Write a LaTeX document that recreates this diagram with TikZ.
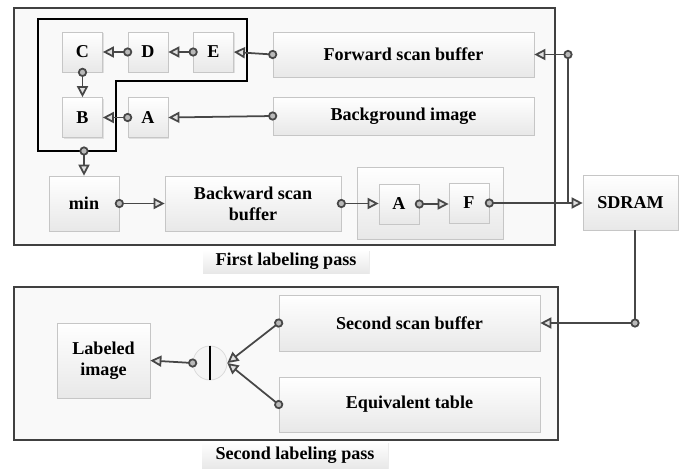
\documentclass[tikz,border=0pt]{standalone}
\usepackage{fontspec}
\setmainfont{Liberation Serif}
\usetikzlibrary{arrows.meta,shadows}

\begin{document}
\begin{tikzpicture}[x=0.02cm, y=-0.02cm,
        font=\fontsize{10.3}{12}\selectfont\bfseries,
        blk/.style={draw=gray!45, line width=0.4pt, top color=white, bottom color=gray!18,
            drop shadow={shadow xshift=0.7pt, shadow yshift=-0.7pt, opacity=0.2},
            inner sep=1pt, align=center},
        sq/.style={blk, minimum width=0.8cm, minimum height=0.8cm},
        frame/.style={draw=black!75, line width=1.6pt, fill=gray!5},
        conn/.style={draw=black!72, line width=1pt, shorten <=-2.6pt,
            {Circle[length=5.2pt, fill=gray!55]}-{Triangle[length=6.3pt, width=6.3pt, fill=gray!25]}},
        wire/.style={draw=black!72, line width=1pt},
        tag/.style={top color=white, bottom color=gray!18,
            drop shadow={shadow xshift=0.7pt, shadow yshift=-0.7pt, opacity=0.15}, inner sep=1pt}]
        \useasboundingbox (0,0) rectangle (694,468);

        % first labeling pass
        \draw[frame] (14,8) rectangle (555,245);
        \draw[line width=1.2pt] (38,19) -- (247,19) -- (247,81) -- (116,81) -- (116,151) -- (38,151) -- cycle;

        \node[sq] (c) at (82.5,52) {C};
        \node[sq] (d) at (148,52) {D};
        \node[sq] (e) at (213.5,52) {E};
        \node[sq] (b) at (82.5,117.5) {B};
        \node[sq] (a) at (148,117.5) {A};
        \node[blk, minimum width=5.22cm, minimum height=0.9cm] (fwd) at (403.5,54.5) {Forward scan buffer};
        \node[blk, minimum width=5.22cm, minimum height=0.76cm] (bkg) at (403.5,116) {Background image};

        \node[blk, minimum width=1.4cm, minimum height=1.1cm] (min) at (84,203.5) {min};
        \node[blk, minimum width=3.52cm, minimum height=1.1cm] (bwd) at (253,203.5) {Backward scan\\buffer};
        \node[blk, minimum width=2.92cm, minimum height=1.44cm] (grp) at (430,203) {};
        \node[sq] (a2) at (399,204) {A};
        \node[sq] (f) at (469,203) {F};

        \node[blk, minimum width=1.9cm, minimum height=1.1cm] (sdram) at (630.5,202.5) {SDRAM};

        \node[tag, minimum width=3.32cm, minimum height=0.46cm] (t1) at (286,261.5) {First labeling pass};

        % second labeling pass
        \draw[frame] (14,287) rectangle (558,440);
        \node[blk, minimum width=5.22cm, minimum height=1.12cm] (ssb) at (409.5,323) {Second scan buffer};
        \node[blk, minimum width=5.22cm, minimum height=1.1cm] (eqt) at (409.5,404.5) {Equivalent table};
        \node[blk, minimum width=1.86cm, minimum height=1.5cm] (lab) at (103.5,360.5) {Labeled\\image};
        \node[circle, draw=gray!30, fill=gray!8, minimum size=0.68cm] (merge) at (210,363) {};
        \draw[line width=1pt] (merge.north) -- (merge.south);

        \node[tag, minimum width=3.72cm, minimum height=0.52cm] (t2) at (295,455) {Second labeling pass};

        % connections
        \draw[conn] (fwd.west) -- (e.east);
        \draw[conn] (e.west) -- (d.east);
        \draw[conn] (d.west) -- (c.east);
        \draw[conn] (c.south) -- (b.north);
        \draw[conn] (a.west) -- (b.east);
        \draw[conn] (bkg.west) -- (a.east);
        \coordinate (lbot) at (84,151);
        \draw[conn] (lbot) -- (min.north);
        \draw[conn] (min.east) -- (bwd.west);
        \draw[conn] (bwd.east) -- (bwd.east -| a2.west);
        \draw[conn] (a2.east) -- (a2.east -| f.west);
        \draw[conn] (f.east) -- (f.east -| sdram.west);

        \coordinate (jtop) at (568,54.5);
        \draw[wire] (jtop) -- (jtop |- sdram.west);
        \draw[conn] (jtop) -- (fwd.east);

        \coordinate (sbot) at (635,323);
        \draw[wire] (sdram.south -| sbot) -- (sbot);
        \draw[conn] (sbot) -- (ssb.east);
        \draw[conn] (ssb.west) -- (merge.east);
        \draw[conn] (eqt.west) -- (merge.east);
        \draw[conn] (merge.west) -- (lab.east);
\end{tikzpicture}
\end{document}
